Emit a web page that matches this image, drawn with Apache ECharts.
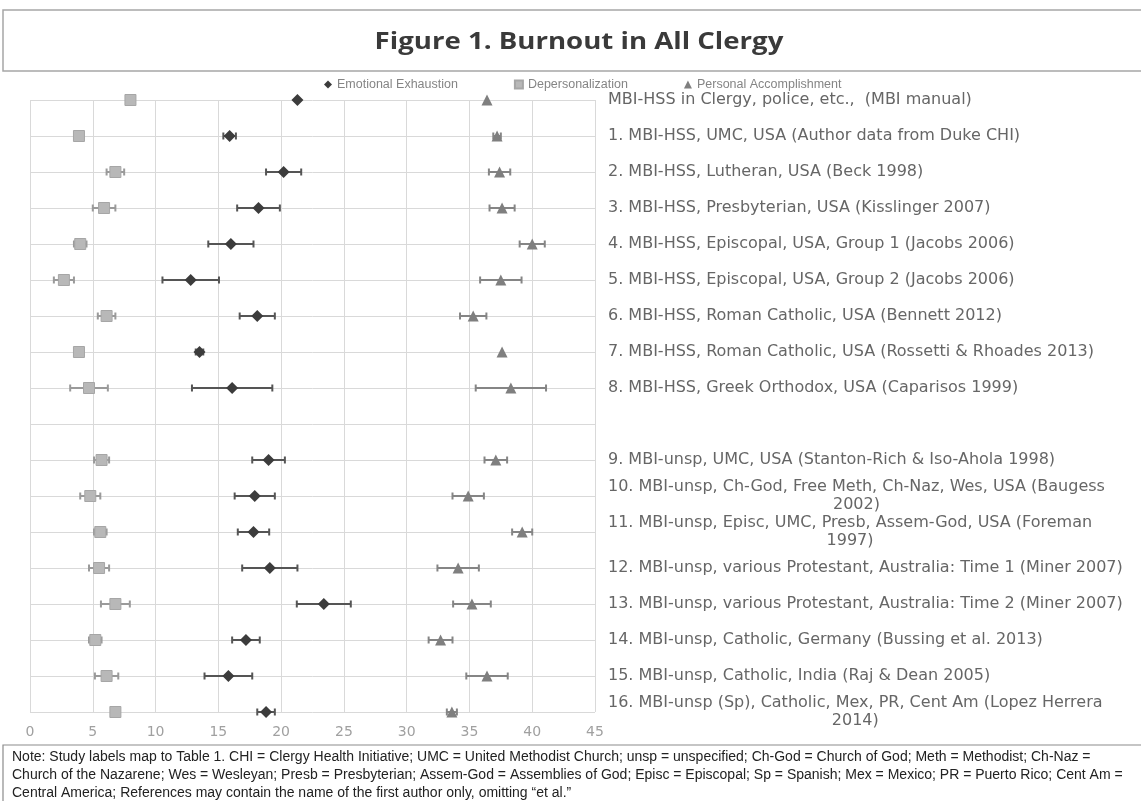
<!DOCTYPE html>
<html>
<head>
<meta charset="utf-8">
<script src="https://cdn.jsdelivr.net/npm/echarts@6/dist/echarts.min.js"></script>
<style>
html,body{margin:0;padding:0;background:#fff;}
#chart{width:1141px;height:801px;}
</style>
</head>
<body>
<div id="chart"></div>
<script>
// ---- data ----
const studies = [
  'MBI-HSS in Clergy, police, etc.,  (MBI manual)',
  '1. MBI-HSS, UMC, USA (Author data from Duke CHI)',
  '2. MBI-HSS, Lutheran, USA (Beck 1998)',
  '3. MBI-HSS, Presbyterian, USA (Kisslinger 2007)',
  '4. MBI-HSS, Episcopal, USA, Group 1 (Jacobs 2006)',
  '5. MBI-HSS, Episcopal, USA, Group 2 (Jacobs 2006)',
  '6. MBI-HSS, Roman Catholic, USA (Bennett 2012)',
  '7. MBI-HSS, Roman Catholic, USA (Rossetti & Rhoades 2013)',
  '8. MBI-HSS, Greek Orthodox, USA (Caparisos 1999)',
  '',
  '9. MBI-unsp, UMC, USA (Stanton-Rich & Iso-Ahola 1998)',
  '10. MBI-unsp, Ch-God, Free Meth, Ch-Naz, Wes, USA (Baugess\n2002)',
  '11. MBI-unsp, Episc, UMC, Presb, Assem-God, USA (Foreman\n1997)',
  '12. MBI-unsp, various Protestant, Australia: Time 1 (Miner 2007)',
  '13. MBI-unsp, various Protestant, Australia: Time 2 (Miner 2007)',
  '14. MBI-unsp, Catholic, Germany (Bussing et al. 2013)',
  '15. MBI-unsp, Catholic, India (Raj & Dean 2005)',
  '16. MBI-unsp (Sp), Catholic, Mex, PR, Cent Am (Lopez Herrera\n2014)'
];
const seriesNames = ['Emotional Exhaustion', 'Depersonalization', 'Personal Accomplishment'];
const eeMean = [21.3, 15.9, 20.2, 18.2, 16.0, 12.8, 18.1, 13.5, 16.1, null, 19.0, 17.9, 17.8, 19.1, 23.4, 17.2, 15.8, 18.8];
const eeErr  = [null, 0.5, 1.4, 1.7, 1.8, 2.25, 1.4, 0.3, 3.2, null, 1.3, 1.6, 1.25, 2.2, 2.15, 1.1, 1.9, 0.7];
const dpMean = [8.0, 3.9, 6.8, 5.9, 4.0, 2.7, 6.1, 3.9, 4.7, null, 5.7, 4.8, 5.6, 5.5, 6.8, 5.2, 6.1, 6.8];
const dpErr  = [null, null, 0.7, 0.9, 0.5, 0.8, 0.7, null, 1.5, null, 0.6, 0.8, 0.5, 0.8, 1.15, 0.5, 0.93, null];
const paMean = [36.4, 37.2, 37.4, 37.6, 40.0, 37.5, 35.3, 37.6, 38.3, null, 37.1, 34.9, 39.2, 34.1, 35.2, 32.7, 36.4, 33.6];
const paErr  = [null, 0.3, 0.85, 1.0, 1.0, 1.65, 1.05, null, 2.8, null, 0.9, 1.25, 0.8, 1.65, 1.5, 0.95, 1.65, 0.4];
const xTicks = [0, 5, 10, 15, 20, 25, 30, 35, 40, 45];
const titleText = 'Figure 1. Burnout in All Clergy';
const noteLines = [
  'Note: Study labels map to Table 1. CHI = Clergy Health Initiative; UMC = United Methodist Church; unsp = unspecified; Ch-God = Church of God; Meth = Methodist; Ch-Naz =',
  'Church of the Nazarene; Wes = Wesleyan; Presb = Presbyterian; Assem-God = Assemblies of God; Episc = Episcopal; Sp = Spanish; Mex = Mexico; PR = Puerto Rico; Cent Am =',
  'Central America; References may contain the name of the first author only, omitting \u201cet al.\u201d'
];

// ---- helpers ----
function pts(means) {
  return means.map((v, i) => v == null ? null : [v, i]).filter(d => d);
}
function errPts(means, errs) {
  return means.map((v, i) => (v == null || errs[i] == null) ? null : [v, i, errs[i]]).filter(d => d);
}
function errSeries(name, means, errs, color) {
  return {
    type: 'custom', name: name + ' err', z: 2,
    data: errPts(means, errs),
    renderItem: function (params, api) {
      const m = api.value(0), idx = api.value(1), e = api.value(2);
      const a = api.coord([m - e, idx]);
      const b = api.coord([m + e, idx]);
      const h = 3.5;
      const st = { stroke: color, lineWidth: 2 };
      return {
        type: 'group',
        children: [
          { type: 'line', shape: { x1: a[0], y1: a[1], x2: b[0], y2: b[1] }, style: st },
          { type: 'line', shape: { x1: a[0], y1: a[1] - h, x2: a[0], y2: a[1] + h }, style: st },
          { type: 'line', shape: { x1: b[0], y1: b[1] - h, x2: b[0], y2: b[1] + h }, style: st }
        ]
      };
    }
  };
}

const chart = echarts.init(document.getElementById('chart'), null, { renderer: 'canvas' });
const labelFont = 'DejaVu Sans';
const labelColor = '#666666';

const option = {
  animation: false,
  backgroundColor: '#fff',
  grid: { left: 30, right: 546, top: 100, bottom: 89, containLabel: false },
  legend: {
    top: 73, left: 319,
    data: [
      { name: seriesNames[0], icon: 'diamond' },
      { name: seriesNames[1], icon: 'rect' },
      { name: seriesNames[2], icon: 'triangle' }
    ],
    itemWidth: 8, itemHeight: 8, itemGap: 56,
    textStyle: { fontSize: 12.5, color: '#858585', fontFamily: 'Liberation Sans' }
  },
  xAxis: {
    type: 'value', min: xTicks[0], max: xTicks[xTicks.length - 1], interval: 5,
    axisLine: { show: false }, axisTick: { show: false },
    splitLine: { show: true, lineStyle: { color: '#d9d9d9', width: 1 } },
    axisLabel: { margin: 13, fontSize: 14, color: '#a0a0a0', fontFamily: labelFont }
  },
  yAxis: {
    type: 'category', data: studies, inverse: true, boundaryGap: false,
    position: 'right',
    axisLine: { show: false }, axisTick: { show: false },
    splitLine: { show: true, interval: 0, lineStyle: { color: '#d9d9d9', width: 1 } },
    axisLabel: {
      interval: 0, margin: 13, fontSize: 16, color: labelColor, fontFamily: labelFont,
      align: 'left',
      formatter: function (v) {
        if (!v) return '';
        const parts = v.split('\n');
        if (parts.length === 1) return '{a|' + parts[0] + '}';
        return '{a|' + parts[0] + '}\n{c|' + parts[1] + '}';
      },
      rich: {
        a: { fontSize: 16, color: labelColor, fontFamily: labelFont, lineHeight: 18 },
        c: { fontSize: 16, color: labelColor, fontFamily: labelFont, lineHeight: 18, align: 'center' }
      }
    }
  },
  series: [
    errSeries(seriesNames[0], eeMean, eeErr, '#555555'),
    errSeries(seriesNames[1], dpMean, dpErr, '#9a9a9a'),
    errSeries(seriesNames[2], paMean, paErr, '#858585'),
    { type: 'scatter', name: seriesNames[0], data: pts(eeMean), symbol: 'diamond', symbolSize: 12, clip: false, z: 5,
      itemStyle: { color: '#3c3c3c', opacity: 1 } },
    { type: 'scatter', name: seriesNames[1], data: pts(dpMean), symbol: 'rect', symbolSize: 11, clip: false, z: 5,
      itemStyle: { color: '#b8b8b8', borderColor: '#a6a6a6', borderWidth: 1, opacity: 1 } },
    { type: 'scatter', name: seriesNames[2], data: pts(paMean), symbol: 'triangle', symbolSize: 11, clip: false, z: 5,
      itemStyle: { color: '#7f7f7f', opacity: 1 } }
  ],
  graphic: [
    { type: 'rect', shape: { x: 3, y: 10, width: 1150, height: 61 }, style: { fill: 'none', stroke: '#a6a6a6', lineWidth: 1.5 }, silent: true },
    { type: 'text', x: 579, y: 42, scaleX: 1.2, style: { text: titleText, textAlign: 'center', textVerticalAlign: 'middle', font: 'bold 23px "Open Sans"', fill: '#3a3a3a' } },
    { type: 'rect', shape: { x: 3, y: 745, width: 1150, height: 70 }, style: { fill: 'none', stroke: '#8c8c8c', lineWidth: 1.2 }, silent: true },
    { type: 'text', x: 12, y: 757, style: { text: noteLines[0], textVerticalAlign: 'middle', font: '14px "Liberation Sans"', fill: '#222' } },
    { type: 'text', x: 12, y: 775, style: { text: noteLines[1], textVerticalAlign: 'middle', font: '14px "Liberation Sans"', fill: '#222' } },
    { type: 'text', x: 12, y: 793, style: { text: noteLines[2], textVerticalAlign: 'middle', font: '14px "Liberation Sans"', fill: '#222' } }
  ]
};
chart.setOption(option);
</script>
</body>
</html>
